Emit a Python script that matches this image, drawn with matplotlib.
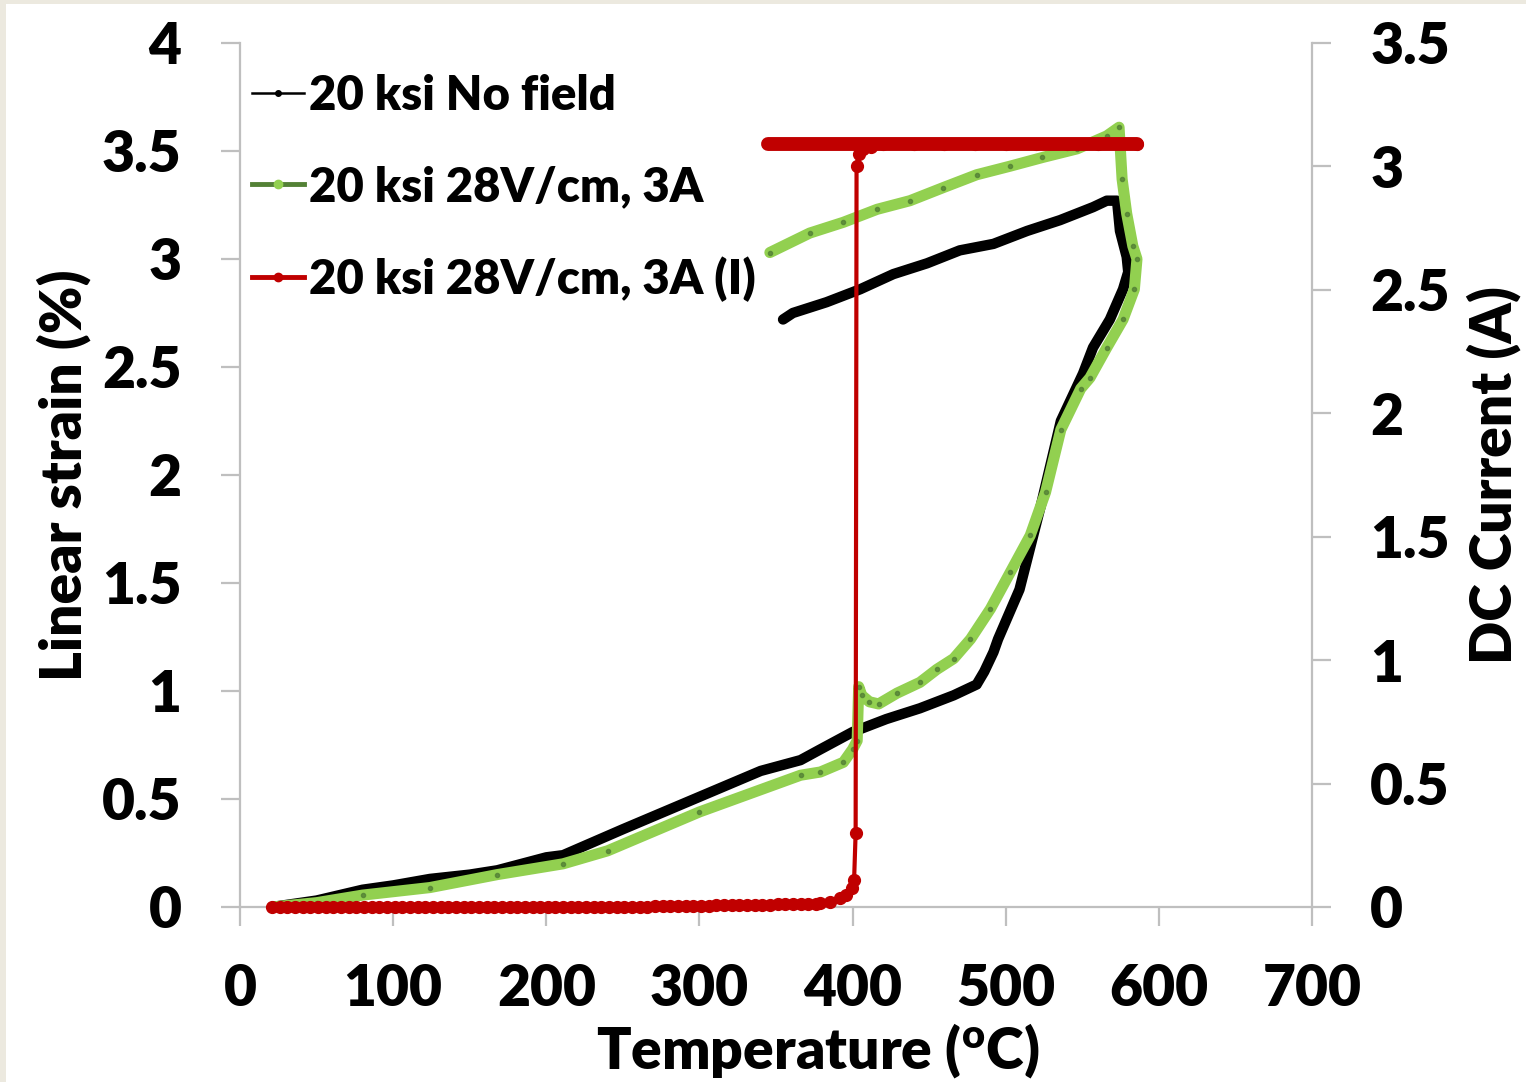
import matplotlib
matplotlib.use("Agg")
import matplotlib.pyplot as plt
from matplotlib.lines import Line2D
from matplotlib.patches import Rectangle
import numpy as np

plt.rcParams['font.family'] = ['Lato', 'DejaVu Sans']
plt.rcParams['font.weight'] = 'heavy'
plt.rcParams['mathtext.fontset'] = 'custom'
plt.rcParams['mathtext.rm'] = 'Lato:heavy'
plt.rcParams['mathtext.it'] = 'Lato:heavy'
plt.rcParams['mathtext.bf'] = 'Lato:heavy'

# ---------------- data ----------------
# 20 ksi No field (strain %, heating then cooling)
t_nofield = [21, 50, 80, 100, 124, 150, 168, 200, 211, 250, 300, 340, 366, 379, 400,
             422, 444, 466, 481, 486, 492, 495, 509, 523, 536, 550.5, 557, 568,
             576.6, 580, 579, 574.6, 572.7, 566, 557, 535.5, 514, 492, 470, 448.6,
             426.6, 405, 383, 361, 354.6]
s_nofield = [0.0, 0.03, 0.08, 0.10, 0.13, 0.15, 0.17, 0.23, 0.24, 0.36, 0.51, 0.63, 0.68,
             0.73, 0.81, 0.87, 0.92, 0.98, 1.03, 1.09, 1.18, 1.24, 1.47, 1.86, 2.25, 2.47,
             2.59, 2.72, 2.86, 2.94, 3.01, 3.13, 3.27, 3.27, 3.24, 3.18, 3.13, 3.07, 3.04,
             2.98, 2.93, 2.86, 2.80, 2.75, 2.72]

# 20 ksi 28V/cm, 3A (strain %)
t_field = [21, 50, 80, 124, 168, 211, 240, 300, 366, 379, 394, 400, 403, 404, 406, 411,
           417, 429, 444, 455, 466, 477, 490, 503, 516, 526, 536, 549, 555, 566, 576.6,
           584, 585.7, 583, 579, 576, 574, 566, 546.6, 524, 503, 481, 459, 437.5, 416,
           394, 372, 346]
s_field = [0.0, 0.02, 0.055, 0.09, 0.15, 0.20, 0.26, 0.44, 0.61, 0.625, 0.67, 0.73, 0.77,
           1.02, 0.98, 0.95, 0.94, 0.99, 1.04, 1.10, 1.15, 1.24, 1.38, 1.55, 1.72, 1.92,
           2.21, 2.40, 2.45, 2.59, 2.72, 2.86, 3.00, 3.06, 3.21, 3.37, 3.61, 3.57, 3.51,
           3.47, 3.43, 3.39, 3.33, 3.27, 3.23, 3.17, 3.12, 3.03]

# 20 ksi 28V/cm, 3A (I) -- DC current (A), heating branch
t_cur_heat = [21, 26, 31, 36, 41, 46, 51, 56, 61, 66, 71, 76, 81, 86, 91, 96, 101, 106,
              111, 116, 121, 126, 131, 136, 141, 146, 151, 156, 161, 166, 171, 176, 181,
              186, 191, 196, 201, 206, 211, 216, 221, 226, 231, 236, 241, 246, 251, 256,
              261, 266, 271, 276, 281, 286, 291, 296, 301, 306, 311, 316, 321, 326, 331,
              336, 341, 346, 351, 356, 361, 366, 371, 376, 379, 385, 392, 396, 399.4,
              401, 402, 402.6, 404, 407, 412, 420, 440, 460, 480, 500, 520, 540, 560, 586]
i_cur_heat = [0, 0, 0, 0, 0, 0, 0, 0, 0, 0, 0, 0, 0, 0, 0, 0, 0, 0,
              0, 0, 0, 0, 0, 0, 0, 0, 0, 0, 0, 0, 0, 0, 0,
              0, 0, 0, 0, 0, 0, 0, 0, 0, 0, 0, 0, 0, 0.001, 0.001,
              0.002, 0.002, 0.003, 0.003, 0.004, 0.004, 0.005, 0.005, 0.006, 0.006, 0.007,
              0.007, 0.008, 0.008, 0.009, 0.009, 0.01, 0.01, 0.011, 0.011, 0.012, 0.012,
              0.013, 0.014, 0.016, 0.022, 0.036, 0.05, 0.077, 0.11, 0.30, 3.0,
              3.05, 3.07, 3.08, 3.09, 3.09, 3.09, 3.09, 3.09, 3.09, 3.09, 3.09, 3.09]
# cooling branch of the current
t_cur_cool = [586, 560, 520, 480, 440, 400, 370, 345]
i_cur_cool = [3.09, 3.09, 3.09, 3.09, 3.09, 3.09, 3.09, 3.09]

x_ticks = [0, 100, 200, 300, 400, 500, 600, 700]
y_ticks = [0, 0.5, 1, 1.5, 2, 2.5, 3, 3.5, 4]
y_tick_labels = ['0', '0.5', '1', '1.5', '2', '2.5', '3', '3.5', '4']
y2_ticks = [0, 0.5, 1, 1.5, 2, 2.5, 3, 3.5]
y2_tick_labels = ['0', '0.5', '1', '1.5', '2', '2.5', '3', '3.5']

labels = ['20 ksi No field', '20 ksi 28V/cm, 3A', '20 ksi 28V/cm, 3A (I)']

# ---------------- figure ----------------
W, H = 1526, 1082
fig = plt.figure(figsize=(W / 100, H / 100), dpi=100)
fig.patch.set_facecolor('white')

ax = fig.add_axes([240 / W, 1 - 907 / H, (1312 - 240) / W, (907 - 43) / H])
ax2 = ax.twinx()

BLACK = '#000000'
LGREEN = '#92D050'
DGREEN = '#538135'
RED = '#C00000'
FS_TICK = 41
FS_LAB = 41
FS_LEG = 34

# black curve
ax.plot(t_nofield, s_nofield, color=BLACK, lw=7.5, solid_joinstyle='round',
        solid_capstyle='round', zorder=3, clip_on=False)
ax.plot(t_nofield, s_nofield, color=BLACK, lw=0, marker='o', ms=4, zorder=3,
        clip_on=False)

# green curve
ax.plot(t_field, s_field, color=LGREEN, lw=8, solid_joinstyle='round',
        solid_capstyle='round', zorder=4, clip_on=False)
ax.plot(t_field, s_field, color=DGREEN, lw=0, marker='o', ms=3, alpha=0.8, zorder=4,
        clip_on=False)

# red current
ax2.plot(t_cur_heat, i_cur_heat, color=RED, lw=3, marker='o', ms=8.5,
         solid_joinstyle='round', zorder=5, clip_on=False)
ax2.plot(t_cur_cool, i_cur_cool, color=RED, lw=10, solid_capstyle='round', zorder=5)

ax.set_xlim(0, 700)
ax.set_ylim(0, 4)
ax2.set_ylim(0, 3.5)

ax.set_xticks(x_ticks)
ax.set_xticklabels([str(v) for v in x_ticks])
ax.set_yticks(y_ticks)
ax.set_yticklabels(y_tick_labels)
ax2.set_yticks(y2_ticks)
ax2.set_yticklabels(y2_tick_labels)

GRAY = '#BFBFBF'
for a in (ax, ax2):
    a.set_facecolor('none')
    for sp in a.spines.values():
        sp.set_color(GRAY)
        sp.set_linewidth(1.6)
    a.spines['top'].set_visible(False)
ax.spines['right'].set_visible(False)
ax2.spines['left'].set_visible(False)
ax2.spines['bottom'].set_visible(False)

ax.tick_params(axis='both', which='major', direction='out', length=14, width=1.6,
               color=GRAY, labelsize=FS_TICK, labelcolor='black')
ax.tick_params(axis='y', pad=28)
ax.tick_params(axis='x', pad=26)
ax2.tick_params(axis='y', direction='out', length=14, width=1.6, color=GRAY,
                labelsize=FS_TICK, labelcolor='black', pad=28)
for lab in ax.get_xticklabels() + ax.get_yticklabels() + ax2.get_yticklabels():
    lab.set_fontweight('heavy')

ax.set_xlabel(r'Temperature ($\mathregular{^o}$C)', fontsize=FS_LAB, fontweight='heavy')
ax.xaxis.set_label_coords(0.539, -0.132)
ax.set_ylabel('Linear strain (%)', fontsize=FS_LAB, fontweight='heavy', labelpad=8)
ax2.set_ylabel('DC Current (A)', fontsize=FS_LAB, fontweight='heavy', labelpad=12)

handles = [
    Line2D([], [], color=BLACK, lw=1.8, marker='o', ms=4),
    Line2D([], [], color=DGREEN, lw=3.5, marker='o', ms=6, mfc=LGREEN, mec=LGREEN),
    Line2D([], [], color=RED, lw=3.5, marker='o', ms=6),
]
leg = ax.legend(handles, labels, loc='upper left', bbox_to_anchor=(-0.017, 1.0),
                frameon=False, handlelength=1.1, handletextpad=0.1,
                labelspacing=1.0, borderaxespad=0.2, borderpad=0.45,
                prop={'weight': 'heavy', 'size': FS_LEG})

# window frame of the original screenshot
fig.add_artist(Rectangle((0, 1 - 4 / H), 1, 4 / H, transform=fig.transFigure,
                         facecolor='#ECE9DF', edgecolor='none'))
fig.add_artist(Rectangle((0, 0), 6 / W, 1, transform=fig.transFigure,
                         facecolor='#ECE9DF', edgecolor='none'))

fig.savefig('out.png', dpi=100)
